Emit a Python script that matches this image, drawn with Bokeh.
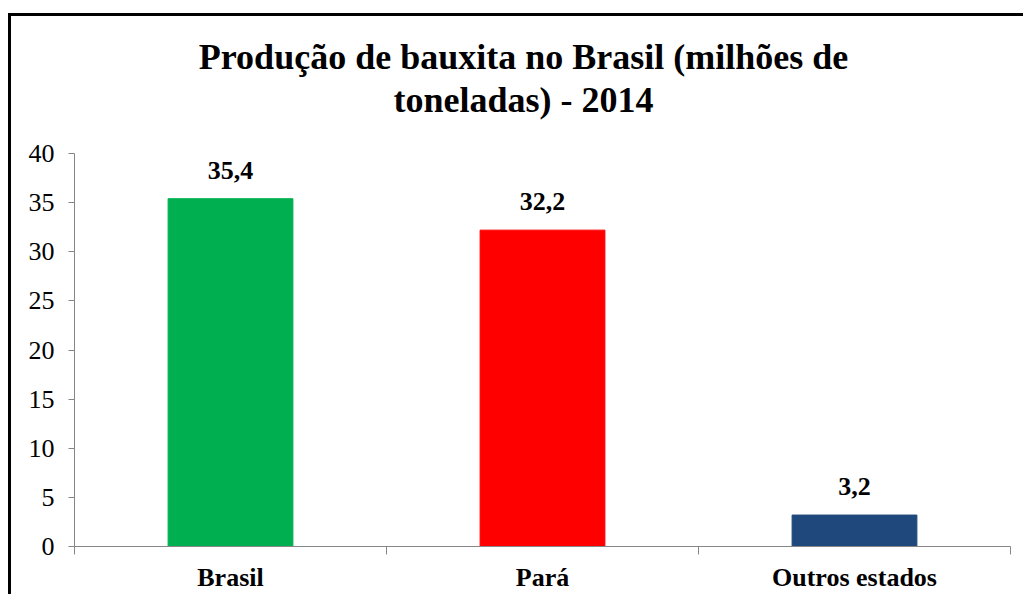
from bokeh.plotting import figure
from bokeh.models import ColumnDataSource, FixedTicker, Range1d, Label, LabelSet
from bokeh.embed import file_html
from bokeh.resources import INLINE

# ---- data ----
categories = ["Brasil", "Pará", "Outros estados"]
values = [35.4, 32.2, 3.2]
colors = ["#00B050", "#FF0000", "#1F497D"]
title_lines = ["Produção de bauxita no Brasil (milhões de", "toneladas) - 2014"]
y_ticks = [0, 5, 10, 15, 20, 25, 30, 35, 40]

FONT = "Liberation Serif"

# layout: the value axis (0-40) takes 393 px; the frame continues upward
# by 137 px so the two title lines can be drawn inside it
AXIS_PX, TITLE_PX = 393, 137
y_top = y_ticks[-1] * (AXIS_PX + TITLE_PX) / AXIS_PX

xs = [i + 0.5 for i in range(len(categories))]
labels = [f"{v:.1f}".replace(".", ",") for v in values]
src = ColumnDataSource(dict(x=xs, top=values, color=colors, label=labels))

p = figure(
    frame_width=936, frame_height=AXIS_PX + TITLE_PX,
    min_border_left=63, min_border_right=13, min_border_top=0, min_border_bottom=48,
    x_range=Range1d(0, len(categories)), y_range=Range1d(0, y_top),
    output_backend="svg", toolbar_location=None,
)
p.styles = {"margin-top": "13px", "margin-left": "8px",
            "border-left": "3px solid black", "border-top": "3px solid black"}

p.vbar(x="x", top="top", width=0.4, color="color", source=src)

p.add_layout(LabelSet(x="x", y="top", text="label", source=src, text_align="center",
                      text_baseline="alphabetic", y_offset=20,
                      text_font=FONT, text_font_size="26px", text_font_style="bold",
                      text_color="black"))

# two-line chart title, centred on the chart box
for line, dy in zip(title_lines, [97, 54]):
    p.add_layout(Label(x=len(categories) / 2, y=y_ticks[-1], x_offset=-19, y_offset=dy,
                       text=line, text_align="center", text_baseline="alphabetic",
                       text_font=FONT, text_font_size="36px", text_font_style="bold",
                       text_color="black"))

p.grid.visible = False
p.outline_line_color = None

ya = p.yaxis[0]
ya.bounds = (y_ticks[0], y_ticks[-1])
ya.ticker = FixedTicker(ticks=y_ticks)
ya.axis_line_color = "#868686"
ya.major_tick_line_color = "#868686"
ya.major_tick_in = 0
ya.major_tick_out = 6
ya.minor_tick_line_color = None
ya.major_label_text_font = FONT
ya.major_label_text_font_size = "26px"
ya.major_label_text_color = "black"
ya.major_label_standoff = 14

xa = p.xaxis[0]
xa.ticker = FixedTicker(ticks=xs, minor_ticks=list(range(len(categories) + 1)))
xa.major_label_overrides = {x: c for x, c in zip(xs, categories)}
xa.axis_line_color = "#868686"
xa.major_tick_line_color = None
xa.minor_tick_line_color = "#868686"
xa.minor_tick_in = 0
xa.minor_tick_out = 8
xa.major_label_text_font = FONT
xa.major_label_text_font_size = "26px"
xa.major_label_text_font_style = "bold"
xa.major_label_text_color = "black"
xa.major_label_standoff = 8

open("out.html", "w").write(file_html(p, INLINE))
